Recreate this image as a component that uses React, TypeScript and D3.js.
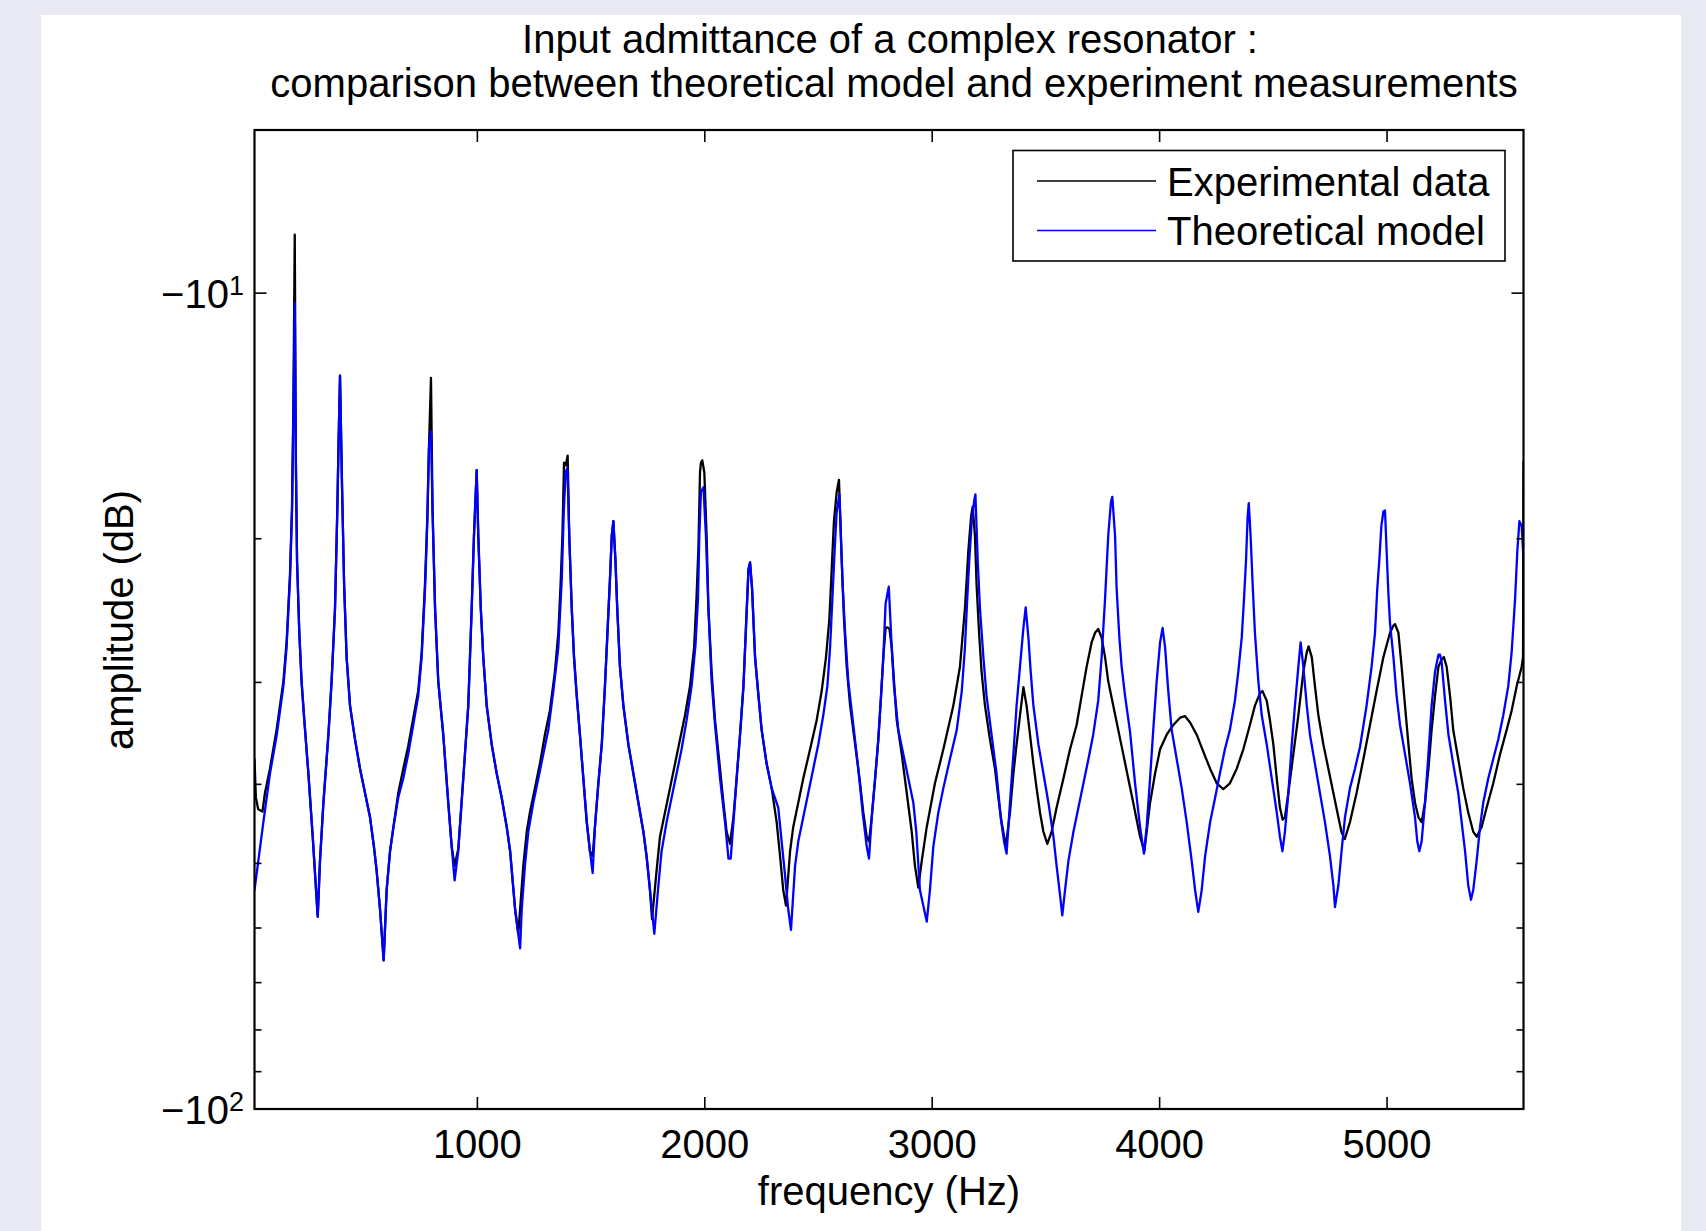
import React from 'react';
import * as d3 from 'd3';

const W = 1706;
const H = 1231;
const FONT = '"Liberation Sans", Arial, Helvetica, sans-serif';

const titleLines = [
  'Input admittance of a complex resonator :',
  'comparison between theoretical model and experiment measurements',
];
const titleCenters = [890, 894];
const xLabel = 'frequency (Hz)';
const yLabel = 'amplitude (dB)';
const xTicks = [1000, 2000, 3000, 4000, 5000];
const yMajorTicks = [
  { value: -10, base: '\u221210', exp: '1' },
  { value: -100, base: '\u221210', exp: '2' },
];
const yMinorTicks = [-20, -30, -40, -50, -60, -70, -80, -90];
const legendItems = [
  { label: 'Experimental data', color: '#000000' },
  { label: 'Theoretical model', color: '#0000ff' },
];

// [frequency (Hz), amplitude (dB)]
const experimental: [number, number][] = [
  [20, -37.24], [26, -41.5], [36, -42.9], [55, -43.2], [66, -40.99], [88, -38.27], [117, -34.3], [147, -29.91], [161, -26.8], [176, -22.13], [185, -18.26], [191, -13.7], [197, -8.48],
  [202, -16.14], [207, -21.24], [217, -26.08], [227, -29.91], [239, -33.38], [257, -38.8], [276, -46.37], [298, -58.13],
  [308, -49.65], [323, -42.13], [345, -34.77], [359, -29.91], [374, -24.35], [384, -18.52], [390, -15.08], [396, -12.62],
  [405, -17.29], [414, -22.74], [425, -27.93], [440, -32.03], [462, -35.25], [484, -38.27], [506, -40.99], [528, -43.9], [545, -47.65], [557, -51.03], [572, -56.95], [588, -65.75],
  [601, -53.91], [616, -48.31], [631, -45.11], [652, -41.0], [674, -38.3], [696, -35.9], [718, -33.2], [740, -30.7], [755, -27.6], [770, -22.6], [780, -18.8], [787, -15.49], [796, -12.7],
  [803, -18.52], [814, -24.35], [828, -29.91], [850, -34.77], [872, -42.13], [887, -47.65], [900, -50.34],
  [916, -48.0], [938, -39.34], [960, -32.03], [975, -24.35], [985, -19.83], [997, -16.48],
  [1004, -19.83], [1015, -24.35], [1026, -27.93], [1041, -32.03], [1063, -35.74], [1085, -38.8], [1107, -41.55], [1129, -45.11], [1144, -48.31], [1155, -52.45], [1166, -56.95], [1180, -60.98],
  [1202, -50.34], [1217, -45.73], [1231, -43.3], [1253, -40.43], [1275, -37.75], [1297, -34.77], [1319, -32.47], [1341, -29.1], [1356, -26.08], [1366, -22.74], [1374, -19.83], [1381, -16.14], [1388, -16.26], [1397, -15.82],
  [1404, -19.83], [1415, -24.35], [1425, -27.93], [1437, -31.16], [1451, -34.77], [1466, -39.34], [1481, -44.5], [1495, -48.31], [1507, -48.98],
  [1517, -45.11], [1532, -39.88], [1547, -35.74], [1561, -30.32], [1573, -25.72], [1583, -22.43], [1591, -19.83], [1598, -19.03],
  [1607, -21.24], [1615, -24.35], [1627, -28.7], [1642, -32.03], [1664, -35.74], [1686, -38.8], [1708, -42.13], [1730, -45.73], [1744, -48.98], [1759, -53.91], [1768, -58.53],
  [1788, -51.03], [1803, -46.37], [1825, -43.3], [1847, -40.43], [1869, -37.75], [1891, -35.25], [1913, -32.92], [1935, -30.32], [1953, -27.17], [1964, -23.5], [1972, -20.5], [1979, -16.59], [1983, -16.14], [1989, -16.03],
  [1998, -16.59], [2008, -19.83], [2016, -24.35], [2030, -29.1], [2045, -33.37], [2067, -38.27], [2082, -42.13], [2096, -45.73], [2111, -47.3],
  [2126, -43.9], [2140, -39.34], [2155, -34.77], [2170, -30.32], [2181, -25.72], [2192, -21.82], [2199, -21.38],
  [2208, -23.05], [2221, -27.93], [2236, -31.16], [2250, -34.3], [2272, -37.75], [2294, -40.43], [2316, -44.5], [2331, -48.98], [2345, -53.91], [2357, -56.33],
  [2375, -48.31], [2389, -45.11], [2411, -42.13], [2433, -39.34], [2463, -36.23], [2492, -33.37], [2514, -30.74], [2533, -27.93], [2548, -25.03], [2558, -21.82], [2568, -19.03], [2580, -17.53], [2590, -16.94],
  [2602, -21.24], [2612, -25.03], [2624, -28.7], [2639, -32.03], [2661, -35.74], [2683, -39.88], [2697, -43.3], [2712, -46.37], [2722, -47.01],
  [2734, -43.9], [2749, -39.34], [2763, -35.25], [2775, -31.16], [2785, -27.93], [2795, -25.72], [2803, -25.68], [2812, -25.8],
  [2822, -27.17], [2832, -29.91], [2844, -33.37], [2866, -36.73], [2888, -40.99], [2910, -45.73], [2924, -50.34], [2939, -53.54],
  [2954, -49.65], [2976, -45.11], [3012, -39.88], [3049, -36.23], [3093, -32.03], [3122, -28.7], [3144, -24.35], [3159, -20.66], [3171, -18.77], [3178, -18.27],
  [3188, -19.83], [3195, -22.74], [3206, -26.08], [3217, -29.1], [3232, -32.03], [3254, -35.25], [3276, -38.27], [3291, -41.55], [3305, -44.5], [3324, -47.65],
  [3342, -43.3], [3357, -38.8], [3371, -35.74], [3386, -32.92], [3401, -30.4],
  [3415, -32.03], [3430, -34.77], [3445, -37.75], [3459, -40.43], [3474, -43.3], [3489, -45.73], [3506, -47.33],
  [3525, -45.73], [3547, -42.71], [3577, -39.34], [3606, -36.23], [3635, -33.83], [3657, -31.16], [3679, -28.7], [3701, -26.8], [3716, -26.08], [3730, -25.8], [3745, -26.44], [3760, -27.93], [3774, -29.91], [3796, -32.03], [3818, -34.3], [3840, -36.73], [3862, -39.34], [3884, -42.13], [3914, -46.37], [3933, -48.31],
  [3943, -45.73], [3958, -42.13], [3980, -38.8], [4002, -36.23], [4031, -34.77], [4060, -33.83], [4090, -33.14], [4112, -33.0], [4134, -33.6], [4163, -34.77], [4192, -36.48], [4222, -38.27], [4251, -39.88], [4280, -40.54],
  [4309, -39.88], [4339, -38.27], [4368, -36.23], [4397, -33.83], [4419, -32.03], [4441, -30.95], [4452, -30.74], [4471, -31.59], [4485, -33.37], [4500, -35.74], [4515, -39.34], [4529, -42.71], [4541, -44.19],
  [4551, -43.9], [4566, -40.99], [4588, -36.73], [4610, -32.92], [4632, -29.1], [4647, -27.55], [4655, -27.1], [4669, -27.93], [4683, -30.32], [4698, -32.92], [4720, -35.74], [4742, -38.27], [4764, -40.99], [4786, -43.9], [4800, -45.8], [4814, -46.68],
  [4837, -44.5], [4866, -40.99], [4896, -37.24], [4925, -33.83], [4954, -30.74], [4984, -27.93], [5013, -26.08], [5028, -25.55], [5035, -25.45], [5050, -26.08], [5064, -28.7], [5079, -32.03], [5094, -35.74], [5108, -39.34], [5123, -42.13], [5138, -43.9], [5152, -44.5],
  [5167, -42.13], [5182, -38.27], [5196, -34.3], [5211, -31.16], [5226, -28.7], [5240, -28.12], [5250, -27.93], [5262, -28.7], [5277, -31.16], [5291, -34.3], [5313, -37.24], [5335, -40.43], [5357, -43.3], [5379, -45.73], [5394, -46.37],
  [5416, -45.11], [5438, -42.71], [5467, -39.88], [5497, -36.73], [5526, -34.3], [5548, -32.47], [5570, -30.32], [5592, -28.7], [5598, -27.93], [5600, -16.1],
];

const theoretical: [number, number][] = [
  [20, -53.91], [59, -44.5], [88, -38.8], [118, -34.77], [147, -30.32], [161, -27.17], [176, -22.43], [185, -18.52], [191, -14.08], [197, -10.27],
  [202, -16.14], [207, -21.24], [217, -26.08], [227, -29.91], [239, -33.38], [257, -38.8], [276, -46.37], [298, -58.13],
  [308, -49.65], [323, -42.13], [345, -34.77], [359, -29.91], [374, -24.35], [384, -18.52], [390, -15.08], [396, -12.62],
  [405, -17.29], [414, -22.74], [425, -27.93], [440, -32.03], [462, -35.25], [484, -38.27], [506, -40.99], [528, -43.9], [545, -47.65], [557, -51.03], [572, -56.95], [588, -65.75],
  [601, -53.91], [616, -48.31], [631, -45.11], [652, -41.55], [674, -39.34], [696, -36.73], [718, -33.83], [740, -31.16], [755, -27.93], [770, -23.05], [780, -19.03], [787, -15.49], [796, -14.77],
  [803, -18.52], [814, -24.35], [828, -29.91], [850, -34.77], [872, -42.13], [887, -47.65], [900, -52.45],
  [916, -48.31], [938, -39.34], [960, -32.03], [975, -24.35], [985, -19.83], [997, -16.48],
  [1004, -19.83], [1015, -24.35], [1026, -27.93], [1041, -32.03], [1063, -35.74], [1085, -38.8], [1107, -41.55], [1129, -45.11], [1144, -48.31], [1155, -52.45], [1166, -56.95], [1188, -63.54],
  [1195, -56.95], [1209, -50.34], [1224, -45.73], [1246, -42.13], [1268, -39.34], [1290, -36.73], [1312, -34.3], [1334, -30.74], [1356, -27.17], [1371, -22.43], [1380, -18.52], [1388, -16.59], [1396, -16.37],
  [1404, -19.83], [1415, -24.35], [1425, -27.93], [1437, -31.16], [1451, -34.77], [1466, -39.34], [1481, -44.5], [1495, -48.31], [1507, -51.38],
  [1517, -45.11], [1532, -39.88], [1547, -35.74], [1561, -30.32], [1573, -25.72], [1583, -22.43], [1591, -19.83], [1598, -19.03],
  [1607, -21.24], [1615, -24.35], [1627, -28.7], [1642, -32.03], [1664, -35.74], [1686, -38.8], [1708, -42.13], [1730, -45.73], [1744, -48.98], [1759, -53.91], [1778, -60.98],
  [1796, -53.18], [1810, -48.31], [1832, -44.5], [1854, -41.55], [1876, -38.8], [1898, -36.23], [1920, -33.37], [1942, -30.32], [1959, -27.0], [1970, -23.7], [1976, -19.83], [1983, -17.53], [1994, -17.29],
  [2005, -19.83], [2016, -24.35], [2030, -29.91], [2045, -33.83], [2067, -39.34], [2089, -44.5], [2104, -49.32], [2114, -49.32],
  [2126, -44.5], [2140, -39.34], [2155, -34.77], [2170, -30.32], [2181, -25.72], [2192, -21.82], [2199, -21.38],
  [2208, -23.05], [2221, -27.93], [2236, -31.16], [2250, -34.3], [2272, -37.75], [2294, -40.43], [2323, -42.71], [2338, -47.01], [2353, -51.74], [2367, -56.95], [2379, -60.32],
  [2397, -50.34], [2411, -47.01], [2433, -43.9], [2455, -40.99], [2477, -38.27], [2499, -35.74], [2521, -32.92], [2539, -30.32], [2551, -27.17], [2561, -23.7], [2571, -20.66], [2580, -18.52], [2592, -17.65],
  [2606, -22.74], [2617, -26.08], [2631, -29.91], [2653, -33.83], [2675, -38.27], [2694, -43.3], [2712, -47.65], [2722, -49.32],
  [2734, -43.9], [2749, -39.34], [2763, -35.25], [2775, -31.16], [2785, -27.93], [2795, -24.02], [2809, -22.9],
  [2822, -27.17], [2832, -30.32], [2851, -34.3], [2873, -36.73], [2895, -39.34], [2917, -42.13], [2930, -45.73], [2946, -53.91], [2976, -58.93],
  [2990, -53.91], [3005, -47.65], [3027, -43.3], [3049, -40.43], [3078, -37.24], [3108, -34.3], [3130, -30.74], [3144, -27.17], [3154, -23.7], [3163, -21.24], [3174, -19.03], [3184, -18.02], [3190, -17.65],
  [3200, -21.24], [3210, -24.35], [3225, -27.93], [3239, -31.16], [3261, -34.77], [3283, -38.8], [3301, -43.9], [3316, -47.01], [3327, -48.64],
  [3342, -42.13], [3357, -36.73], [3371, -32.03], [3386, -28.7], [3401, -25.72], [3411, -24.28],
  [3423, -26.44], [3433, -29.1], [3445, -32.03], [3467, -35.74], [3489, -38.8], [3511, -42.13], [3533, -46.37], [3547, -50.34], [3562, -54.65], [3572, -57.89],
  [3584, -53.91], [3599, -49.65], [3621, -45.73], [3643, -42.71], [3665, -39.88], [3687, -37.24], [3708, -34.77], [3730, -31.59], [3745, -27.93], [3760, -23.7], [3774, -19.83], [3786, -18.02], [3792, -17.77],
  [3804, -19.83], [3811, -23.05], [3823, -26.44], [3833, -28.7], [3848, -31.16], [3870, -34.5], [3892, -39.88], [3914, -45.11], [3931, -48.64],
  [3943, -45.11], [3958, -39.34], [3972, -34.3], [3987, -29.91], [4002, -26.8], [4013, -25.72],
  [4024, -27.17], [4038, -30.74], [4053, -34.3], [4075, -37.24], [4097, -40.43], [4119, -44.5], [4141, -49.65], [4156, -53.91], [4170, -57.33],
  [4185, -53.91], [4200, -48.98], [4222, -44.5], [4244, -41.55], [4265, -38.8], [4287, -36.23], [4309, -34.3], [4331, -31.59], [4346, -29.1], [4361, -26.44], [4371, -23.7], [4380, -21.24], [4387, -18.77], [4392, -18.09],
  [4400, -19.83], [4409, -22.74], [4419, -26.08], [4434, -29.91], [4449, -32.92], [4471, -35.74], [4493, -39.34], [4515, -43.3], [4529, -46.37], [4540, -48.31],
  [4551, -45.73], [4566, -40.99], [4581, -35.74], [4595, -32.03], [4610, -28.7], [4620, -26.8],
  [4632, -28.7], [4647, -32.03], [4661, -34.77], [4683, -37.75], [4705, -40.99], [4727, -44.5], [4749, -48.98], [4764, -53.18], [4771, -56.56],
  [4786, -53.18], [4800, -48.31], [4815, -43.9], [4837, -40.43], [4859, -38.27], [4881, -36.0], [4910, -32.03], [4932, -28.7], [4947, -26.08], [4957, -23.05], [4966, -21.24], [4975, -19.29], [4984, -18.52], [4991, -18.47],
  [4998, -20.66], [5006, -23.37], [5013, -25.37], [5028, -27.93], [5042, -31.16], [5057, -33.83], [5079, -36.73], [5101, -39.88], [5123, -43.9], [5133, -47.01], [5142, -48.31],
  [5152, -47.01], [5167, -42.13], [5182, -36.73], [5196, -32.03], [5211, -29.1], [5226, -27.74], [5233, -27.74],
  [5240, -28.31], [5255, -31.59], [5270, -34.77], [5291, -37.75], [5313, -40.99], [5328, -44.5], [5343, -48.31], [5357, -53.18], [5369, -55.41],
  [5379, -53.91], [5394, -49.65], [5409, -45.11], [5423, -42.13], [5445, -39.34], [5467, -37.24], [5489, -35.25], [5511, -32.92], [5533, -30.32], [5548, -27.55], [5563, -23.7], [5573, -20.66], [5582, -19.03], [5592, -19.29], [5600, -21.24],
];

export default function App() {
  const L = 254.5, R = 1523.5, T = 130, B = 1109;
  const x = d3.scaleLinear().domain([20, 5600]).range([L, R]);
  const y = d3.scaleLog().domain([-100, -6.31]).range([B, T]);
  const line = d3
    .line<[number, number]>()
    .x((d) => x(d[0]))
    .y((d) => y(d[1]));

  const majorLen = 12;
  const minorLen = 7;
  const fs = 40;

  return (
    <div style={{ position: 'absolute', left: 0, top: 0 }}>
      <svg width={W} height={H} viewBox={`0 0 ${W} ${H}`} style={{ display: 'block' }}>
        <defs>
          <clipPath id="plotClip">
            <rect x={L} y={T} width={R - L} height={B - T} />
          </clipPath>
        </defs>
        <rect x={0} y={0} width={W} height={H} fill="#eaeaf4" />
        <rect x={41} y={15} width={1640} height={H - 15} fill="#ffffff" />

        {titleLines.map((t, i) => (
          <text
            key={i}
            x={titleCenters[i]}
            y={52.5 + i * 44.5}
            textAnchor="middle"
            fontFamily={FONT}
            fontSize={fs}
            fill="#000"
          >
            {t}
          </text>
        ))}

        <g clipPath="url(#plotClip)" fill="none" strokeLinejoin="round" strokeLinecap="round">
          <path d={line(experimental) || ''} stroke="#000000" strokeWidth={2.3} />
          <path d={line(theoretical) || ''} stroke="#0000ff" strokeWidth={2.3} />
        </g>

        {/* axes box */}
        <rect x={L} y={T} width={R - L} height={B - T} fill="none" stroke="#000" strokeWidth={2.2} />

        {/* x ticks */}
        {xTicks.map((t) => (
          <g key={t}>
            <line x1={x(t)} x2={x(t)} y1={B} y2={B - majorLen} stroke="#000" strokeWidth={1.6} />
            <line x1={x(t)} x2={x(t)} y1={T} y2={T + majorLen} stroke="#000" strokeWidth={1.6} />
            <text
              x={x(t)}
              y={1158}
              textAnchor="middle"
              fontFamily={FONT}
              fontSize={fs}
              fill="#000"
            >
              {t}
            </text>
          </g>
        ))}

        {/* y minor ticks */}
        {yMinorTicks.map((t) => (
          <g key={t}>
            <line x1={L} x2={L + minorLen} y1={y(t)} y2={y(t)} stroke="#000" strokeWidth={1.6} />
            <line x1={R} x2={R - minorLen} y1={y(t)} y2={y(t)} stroke="#000" strokeWidth={1.6} />
          </g>
        ))}

        {/* y major ticks */}
        {yMajorTicks.map((t) => (
          <g key={t.value}>
            <line x1={L} x2={L + majorLen} y1={y(t.value)} y2={y(t.value)} stroke="#000" strokeWidth={1.6} />
            <line x1={R} x2={R - majorLen} y1={y(t.value)} y2={y(t.value)} stroke="#000" strokeWidth={1.6} />
            <text
              x={244}
              y={y(t.value) + 15}
              textAnchor="end"
              fontFamily={FONT}
              fontSize={fs}
              fill="#000"
            >
              {t.base}
              <tspan fontSize={27} dy={-13}>
                {t.exp}
              </tspan>
            </text>
          </g>
        ))}

        {/* axis labels */}
        <text x={889} y={1205} textAnchor="middle" fontFamily={FONT} fontSize={fs} fill="#000">
          {xLabel}
        </text>
        <text
          transform={`translate(133,620) rotate(-90)`}
          textAnchor="middle"
          fontFamily={FONT}
          fontSize={fs}
          fill="#000"
        >
          {yLabel}
        </text>

        {/* legend */}
        <rect x={1013} y={150.5} width={492} height={110.5} fill="#fff" stroke="#000" strokeWidth={1.6} />
        {legendItems.map((it, i) => (
          <g key={it.label}>
            <line
              x1={1037}
              x2={1156}
              y1={181 + i * 49.5}
              y2={181 + i * 49.5}
              stroke={it.color}
              strokeWidth={1.4}
            />
            <text
              x={1167}
              y={195.5 + i * 49.5}
              fontFamily={FONT}
              fontSize={fs}
              fill="#000"
            >
              {it.label}
            </text>
          </g>
        ))}
      </svg>
    </div>
  );
}
